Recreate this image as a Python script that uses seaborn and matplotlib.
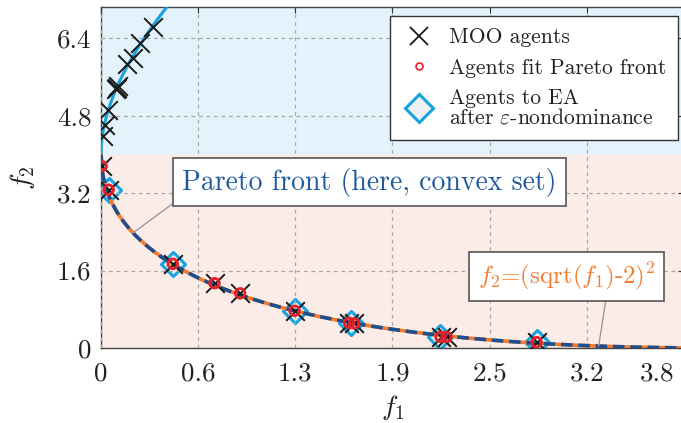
import numpy as np
import matplotlib
matplotlib.use("Agg")
import matplotlib.pyplot as plt
import seaborn as sns
from matplotlib.lines import Line2D
from matplotlib.transforms import ScaledTranslation

# MOO agents lying on the upper (dominated) branch
upper_f1 = [0.341, 0.255, 0.170, 0.209, 0.098, 0.113, 0.104, 0.048, 0.026, 0.011]
upper_f2 = [6.64, 6.30, 5.87, 5.99, 5.35, 5.41, 5.38, 4.92, 4.61, 4.38]

# Agents that fit the Pareto front
front_f1 = [0.004, 0.05, 0.468, 0.740, 0.907, 1.262, 1.617, 1.651, 2.213, 2.252, 2.839]
front_f2 = [3.76, 3.27, 1.74, 1.34, 1.13, 0.77, 0.52, 0.51, 0.23, 0.23, 0.12]

# Agents handed to the EA after epsilon-nondominance
ea_f1 = [0.05, 0.468, 1.262, 1.632, 2.21, 2.84]
ea_f2 = [3.27, 1.74, 0.77, 0.51, 0.23, 0.12]

x_ticks = [0, 0.6333, 1.2667, 1.9, 2.5333, 3.1667, 3.8]
x_tick_labels = ["0", "0.6", "1.3", "1.9", "2.5", "3.2", "3.8"]
y_ticks = [0, 1.6, 3.2, 4.8, 6.4]
y_tick_labels = ["0", "1.6", "3.2", "4.8", "6.4"]
f2_split = 4.0
x_max, y_max = 3.8, 7.05

# colours
c_orange = "#f47a2e"
c_navy = "#1d4f8f"
c_cyan = "#18a3dc"
c_red = "#e6202a"
c_bg_top = "#e4f3fb"
c_bg_bot = "#fbece7"
c_text_blue = "#1f5a9e"

sns.set_theme(style="white")
plt.rcParams["font.family"] = ["cmr10", "DejaVu Serif"]
plt.rcParams["mathtext.fontset"] = "cm"
plt.rcParams["axes.unicode_minus"] = False
plt.rcParams["axes.formatter.use_mathtext"] = True

fig = plt.figure(figsize=(6.81, 4.23), dpi=100)
ax = fig.add_axes([101 / 681, 1 - 348 / 423, 583 / 681, 341 / 423])

# shaded objective regions
ax.axhspan(f2_split, y_max, color=c_bg_top, zorder=0, lw=0)
ax.axhspan(0, f2_split, color=c_bg_bot, zorder=0, lw=0)

# Pareto front f2 = (sqrt(f1) - 2)^2 and the upper branch (sqrt(f1) + 2)^2
f1_grid = np.linspace(0, x_max, 400)
lower = (np.sqrt(f1_grid) - 2) ** 2
f1_up = np.linspace(0, 0.45, 200)
upper = (np.sqrt(f1_up) + 2) ** 2

sns.lineplot(x=f1_up, y=upper, color=c_cyan, lw=2.2, ax=ax, sort=False,
             estimator=None, zorder=2.6)
sns.lineplot(x=f1_grid, y=lower, color=c_orange, lw=2.6, ax=ax, sort=False,
             estimator=None, zorder=2.6)
sns.lineplot(x=f1_grid, y=lower, color=c_navy, lw=2.6, ax=ax, sort=False,
             estimator=None, zorder=2.7)
ax.lines[-1].set_dashes([3.2, 1.6])

# agent markers
sns.scatterplot(x=ea_f1, y=ea_f2, marker="D", s=150, facecolor="#e6ecf0",
                edgecolor=c_cyan, linewidth=2.2, ax=ax, zorder=2.5)
moo_f1 = upper_f1 + front_f1
moo_f2 = upper_f2 + front_f2
sns.scatterplot(x=moo_f1, y=moo_f2, marker="x", s=180, color="#1a1a1a",
                linewidth=1.4, ax=ax, zorder=4)
sns.scatterplot(x=front_f1, y=front_f2, marker="o", s=48, facecolor="none",
                edgecolor=c_red, linewidth=2.0, ax=ax, zorder=5)

ax.set_xlim(0, x_max)
ax.set_ylim(0, y_max)
ax.set_xticks(x_ticks)
ax.set_xticklabels(x_tick_labels)
ax.set_yticks(y_ticks)
ax.set_yticklabels(y_tick_labels)
ax.tick_params(direction="in", length=4, width=0.8, color="#333333",
               labelsize=19.5, labelcolor="#222222", top=True, right=True)
ax.tick_params(axis="x", pad=10)
ax.tick_params(axis="y", pad=7)
ax.grid(True, color="#a8a8a8", lw=0.9, ls=(0, (3, 3)))
ax.set_axisbelow(False)
for g in ax.get_xgridlines() + ax.get_ygridlines():
    g.set_zorder(1)
for sp in ax.spines.values():
    sp.set_color("#444444")
    sp.set_linewidth(1.0)

last = ax.get_xticklabels()[-1]
last.set_transform(last.get_transform() + ScaledTranslation(-0.27, 0, fig.dpi_scale_trans))

ax.set_xlabel(r"$f_1$", fontsize=20, color="#222222", labelpad=5)
ax.set_ylabel(r"$f_2$", fontsize=20, color="#222222", labelpad=14)

# callouts
ax.annotate("Pareto front (here, convex set)", xy=(0.209, 2.38), xytext=(1.75, 3.43),
            ha="center", va="center", fontsize=20, color=c_text_blue,
            bbox=dict(boxstyle="square,pad=0.33", fc="white", ec="#555555", lw=1.2),
            arrowprops=dict(arrowstyle="-", color="#9a9a9a", lw=1.0,
                            relpos=(0, 0), shrinkA=0, shrinkB=0),
            zorder=6)
ax.annotate(r"$f_2$=(sqrt($f_1$)-2)$^2$", xy=(3.244, 0.04), xytext=(3.035, 1.477),
            ha="center", va="center", fontsize=18, color=c_orange,
            bbox=dict(boxstyle="square,pad=0.35", fc="white", ec="#555555", lw=1.2),
            arrowprops=dict(arrowstyle="-", color="#9a9a9a", lw=1.0,
                            relpos=(0.727, 0), shrinkA=0, shrinkB=0),
            zorder=6)

handles = [
    Line2D([], [], ls="none", marker="x", ms=13, mew=1.3, color="#1a1a1a"),
    Line2D([], [], ls="none", marker="o", ms=5, mew=1.2, mfc="none", mec=c_red),
    Line2D([], [], ls="none", marker="D", ms=14, mew=2.2, mfc="#eef1f4", mec=c_cyan),
]
labels = ["MOO agents", "Agents fit Pareto front",
          "Agents to EA\nafter $\\varepsilon$-nondominance"]
leg = ax.legend(handles, labels, loc="upper right",
                bbox_to_anchor=(678 / 681, 1 - 16 / 423), bbox_transform=fig.transFigure,
                borderaxespad=0, fontsize=15.5, frameon=True, fancybox=False,
                framealpha=1, edgecolor="#333333", labelspacing=0.5,
                handletextpad=0.6, borderpad=0.55, handlelength=1.6,
                labelcolor="#222222")
leg.get_frame().set_linewidth(1.0)
leg.set_zorder(7)
for t in leg.get_texts():
    t.set_linespacing(1.0)

fig.savefig("out.png", dpi=100)
